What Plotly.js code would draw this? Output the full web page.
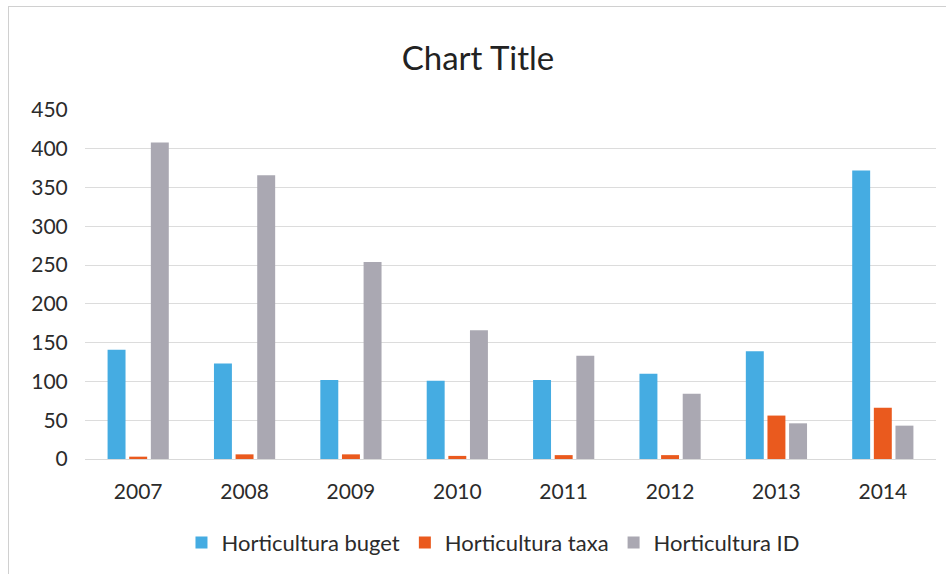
<!DOCTYPE html>
<html><head><meta charset="utf-8">
<script src="https://cdn.plot.ly/plotly-3.0.1.min.js"></script>
<style>html,body{margin:0;padding:0;background:#fff}#c{position:absolute;left:8px;top:6px;width:938px;height:568px;border:1px solid #d0d0d0;box-sizing:border-box}</style>
</head><body><div id="c"></div>
<script>
const years = ['2007','2008','2009','2010','2011','2012','2013','2014'];
const buget = [141, 123, 102, 101, 102, 110, 139, 372];
const taxa = [3, 6, 6, 4, 5, 5, 56, 66];
const hortID = [408, 366, 254, 166, 133, 84, 46, 43];
const names = ['Horticultura buget','Horticultura taxa','Horticultura ID'];
const colors = ['#45ace2','#ea5a1e','#aaa8b2'];
const series = [buget, taxa, hortID];
const data = series.map((v,i)=>({type:'bar', x:years, y:v, name:names[i], marker:{color:colors[i]}, hoverinfo:'x+y'}));
const layout = {
  width:938, height:568,
  margin:{l:76, r:11, t:103, b:113},
  title:{text:'Chart Title', x:0.5, xanchor:'center', y:0.91, yanchor:'middle', font:{family:'Lato, Open Sans, sans-serif', size:33, color:'#222'}},
  font:{family:'Lato, Open Sans, sans-serif', size:21, color:'#2b2b2b'},
  bargap:0.39, bargroupgap:0.17,
  xaxis:{type:'category', showgrid:false, showline:true, linecolor:'#d9d9d9', ticks:'outside', ticklen:14, tickcolor:'rgba(0,0,0,0)', tickfont:{size:21}},
  yaxis:{range:[0,450], dtick:50, showgrid:true, gridcolor:'#dcdcdc', zeroline:false, showline:false, tickfont:{size:21}, ticklen:12, ticks:'outside', tickcolor:'rgba(0,0,0,0)'},
  legend:{orientation:'h', x:0.48, xanchor:'center', y:-0.24, yanchor:'middle', font:{size:22}, itemwidth:20},
  paper_bgcolor:'#fff', plot_bgcolor:'#fff', showlegend:true
};
Plotly.newPlot('c', data, layout, {displayModeBar:false, staticPlot:true});
</script></body></html>
